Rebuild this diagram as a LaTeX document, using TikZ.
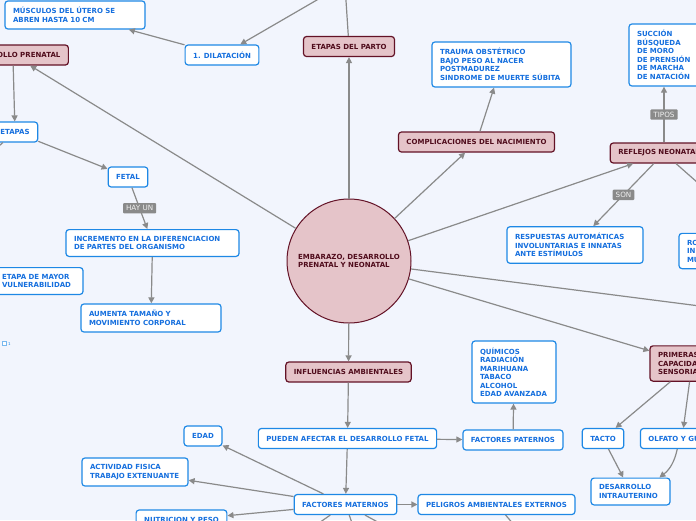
\documentclass[tikz,border=0pt]{standalone}
\usepackage{fontspec}
\setmainfont{DejaVu Sans}
\usetikzlibrary{arrows.meta}

\definecolor{fondo}{RGB}{242,245,253}
\definecolor{azul}{RGB}{30,136,229}
\definecolor{azultxt}{RGB}{21,111,222}
\definecolor{rosado}{RGB}{229,196,201}
\definecolor{vino}{RGB}{99,18,38}
\definecolor{vinotxt}{RGB}{80,12,28}
\definecolor{gris}{RGB}{138,138,138}

\tikzset{
  caja/.style={draw=azul, fill=white, line width=1.2pt, rounded corners=3pt,
    text=azultxt, font=\bfseries\fontsize{7}{8.5}\selectfont,
    inner xsep=8pt, inner ysep=6.5pt, minimum height=20pt, align=left},
  cajarosa/.style={caja, draw=vino, fill=rosado, text=vinotxt},
  flecha/.style={draw=gris, line width=1.2pt, -{Triangle[length=6pt,width=6pt]}},
  etiq/.style={fill=gris, text=white!88!gris, font=\fontsize{7.2}{8}\selectfont,
    inner xsep=3pt, inner ysep=2.5pt, rounded corners=1pt}
}

\begin{document}
\begin{tikzpicture}[x=1pt,y=-1pt]
  \useasboundingbox (0,0) rectangle (696,520);
  \fill[fondo] (0,0) rectangle (696,520);
  \begin{scope}
  \clip (0,0) rectangle (696,520);

  % Nodo central
  \node[circle, draw=vino, fill=rosado, line width=1pt, minimum size=124pt,
    text=vinotxt, font=\bfseries\fontsize{7}{8.5}\selectfont, align=left]
    (circ) at (349,261) {EMBARAZO, DESARROLLO\\PRENATAL Y NEONATAL};

  % Parto
  \node[cajarosa] (parto) at (349,46.5) {ETAPAS DEL PARTO};
  \node[caja] (dilat) at (222,55) {1. DILATACIÓN};
  \node[caja, text width=124pt] (musc) at (75,15) {MÚSCULOS DEL ÚTERO SE\\ABREN HASTA 10 CM};
  \coordinate (arriba1) at (344,-30);
  \coordinate (arriba2) at (360,-25);

  % Desarrollo prenatal
  \node[cajarosa] (prenatal) at (12.9,55) {DESARROLLO PRENATAL};
  \node[caja] (etapas) at (15,132) {ETAPAS};
  \coordinate (emb) at (-40,180);
  \node[caja] (fetal) at (128,177) {FETAL};
  \node[caja, text width=157pt] (increm) at (152.5,243) {INCREMENTO EN LA DIFERENCIACION\\DE PARTES DEL ORGANISMO};
  \node[caja, text width=124pt] (aumenta) at (151,318) {AUMENTA TAMAÑO Y\\MOVIMIENTO CORPORAL};
  \node[caja, text width=73pt] (vulner) at (38.5,281) {ETAPA DE MAYOR\\VULNERABILIDAD};
  \node[draw=azul!60, fill=white, line width=0.5pt, minimum size=4pt, inner sep=0pt] (nota) at (4,343) {};
  \node[text=azul, font=\fontsize{4}{4}\selectfont, inner sep=0pt] (num) at (9.5,344) {1};

  % Complicaciones
  \node[cajarosa] (compl) at (476.5,142) {COMPLICACIONES DEL NACIMIENTO};
  \node[caja, text width=123pt] (trauma) at (501.5,64.5) {TRAUMA OBSTÉTRICO\\BAJO PESO AL NACER\\POSTMADUREZ\\SINDROME DE MUERTE SÚBITA};

  % Reflejos
  \node[cajarosa] (refl) at (664,153) {REFLEJOS NEONATALES};
  \node[caja, text width=54pt] (succ) at (664,55) {SUCCIÓN\\BÚSQUEDA\\DE MORO\\DE PRENSIÓN\\DE MARCHA\\DE NATACIÓN};
  \node[caja, text width=120pt] (resp) at (575,245) {RESPUESTAS AUTOMÁTICAS\\INVOLUNTARIAS E INNATAS\\ANTE ESTÍMULOS};
  \node[caja, text width=60pt] (ro) at (717,251) {RO\\IN\\MU};
  \coordinate (derR1) at (740,220);
  \coordinate (derR2) at (770,315);

  % Capacidades sensoriales
  \node[cajarosa, text width=68pt] (prim) at (692,363.5) {PRIMERAS\\CAPACIDADES\\SENSORIALES};
  \node[caja] (tacto) at (603,438.5) {TACTO};
  \node[caja] (olfato) at (682,438.5) {OLFATO Y GUSTO};
  \node[caja, text width=63pt] (desint) at (630.5,491.5) {DESARROLLO\\INTRAUTERINO};

  % Influencias ambientales
  \node[cajarosa] (influ) at (348.5,372) {INFLUENCIAS AMBIENTALES};
  \node[caja] (pueden) at (347.5,438.5) {PUEDEN AFECTAR EL DESARROLLO FETAL};
  \node[caja] (fpat) at (513,440) {FACTORES PATERNOS};
  \node[caja, text width=68pt] (quim) at (514,372) {QUÍMICOS\\RADIACIÓN\\MARIHUANA\\TABACO\\ALCOHOL\\EDAD AVANZADA};
  \node[caja] (fmat) at (345.5,504.5) {FACTORES MATERNOS};
  \node[caja] (pelig) at (496.5,504.5) {PELIGROS AMBIENTALES EXTERNOS};
  \node[caja] (edad) at (203,436) {EDAD};
  \node[caja, text width=90pt] (activ) at (135,472) {ACTIVIDAD FISICA\\TRABAJO EXTENUANTE};
  \node[caja] (nutri) at (181.5,520) {NUTRICION Y PESO};
  \coordinate (abajo1) at (280,550);
  \coordinate (abajo2) at (365,560);
  \coordinate (abajo3) at (420,545);
  \coordinate (abajo4) at (540,555);

  % Conectores
  \foreach \from/\to in {circ/parto, parto/arriba1, arriba2/dilat, dilat/musc,
      circ/prenatal, prenatal/etapas, etapas/fetal, etapas/emb, increm/aumenta,
      circ/compl, compl/trauma, circ/refl, refl/derR1, circ/derR2, circ/prim,
      prim/tacto, prim/olfato, tacto/desint, circ/influ, influ/pueden,
      pueden/fpat, fpat/quim, pueden/fmat, fmat/pelig, fmat/edad, fmat/activ,
      fmat/nutri, fmat/abajo1, fmat/abajo2, fmat/abajo3, pelig/abajo4}
    \draw[flecha] (\from) -- (\to);
  \draw[flecha] (olfato) to[bend left=20] (desint);

  % Conectores con etiqueta
  \draw[flecha] (fetal) -- node[etiq] (hayun) {HAY UN} (increm);
  \draw[flecha] (refl) -- node[etiq] (son) {SON} (resp);
  \draw[flecha] (refl) -- node[etiq] (tipos) {TIPOS} (succ);
  \end{scope}
\end{tikzpicture}
\end{document}
